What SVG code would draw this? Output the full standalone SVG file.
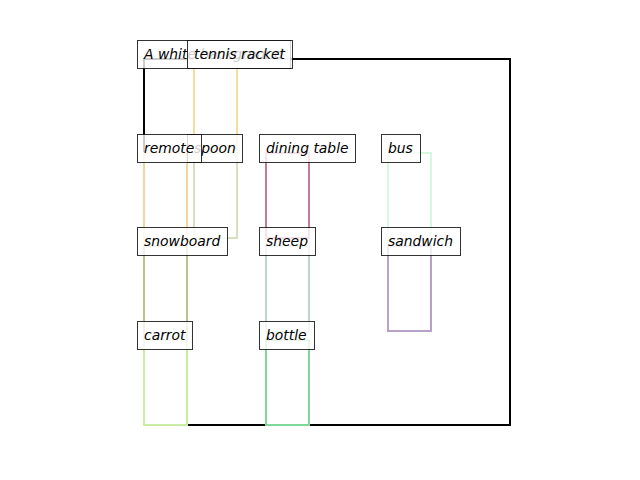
<svg xmlns="http://www.w3.org/2000/svg" width="640" height="480" viewBox="0 0 640 480">
<style>
.box{fill:none;stroke-width:2}
.lb{fill:#ffffff;fill-opacity:0.8;stroke:#000000;stroke-opacity:0.8;stroke-width:1}
.t{font-family:"DejaVu Sans",sans-serif;font-style:italic;font-size:13.9px;fill:#000000}
</style>
<rect width="640" height="480" fill="#ffffff"/>
<g id="boxes">
<rect id="box-image" class="box" x="144" y="59" width="366" height="366" stroke="#000000"/>
<rect id="box-tennis-racket" class="box" x="194" y="59" width="43" height="94" stroke="#f5dca0"/>
<rect id="box-spoon" class="box" x="194" y="153" width="43" height="85" stroke="#d6e0c0"/>
<rect id="box-remote" class="box" x="144" y="153" width="43" height="93" stroke="#f3d5a2"/>
<rect id="box-dining-table" class="box" x="266" y="153" width="43" height="85" stroke="#c47c9c"/>
<rect id="box-bus" class="box" x="388" y="153" width="43" height="93" stroke="#d6f8e0"/>
<rect id="box-snowboard" class="box" x="144" y="246" width="43" height="94" stroke="#b8c48e"/>
<rect id="box-sheep" class="box" x="266" y="246" width="43" height="86" stroke="#bcd8cc"/>
<rect id="box-sandwich" class="box" x="388" y="246" width="43" height="85" stroke="#b9a0c9"/>
<rect id="box-carrot" class="box" x="144" y="340" width="43" height="85" stroke="#c8eca2"/>
<rect id="box-bottle" class="box" x="266" y="340" width="43" height="85" stroke="#80d898"/>
</g>
<g id="labels">
<g id="label-a-white-background"><rect class="lb" x="137.5" y="40.5" width="153" height="28"/><text class="t" x="144" y="59">A white background</text></g>
<g id="label-tennis-racket"><rect class="lb" x="187.5" y="40.5" width="105" height="28"/><text class="t" x="194" y="59">tennis racket</text></g>
<g id="label-spoon"><rect class="lb" x="187.5" y="134.5" width="55" height="28"/><text class="t" x="194" y="153">spoon</text></g>
<g id="label-remote"><rect class="lb" x="137.5" y="134.5" width="64" height="28"/><text class="t" x="144" y="153">remote</text></g>
<g id="label-dining-table"><rect class="lb" x="259.5" y="134.5" width="96" height="28"/><text class="t" x="266" y="153">dining table</text></g>
<g id="label-bus"><rect class="lb" x="381.5" y="134.5" width="39" height="28"/><text class="t" x="388" y="153">bus</text></g>
<g id="label-snowboard"><rect class="lb" x="137.5" y="227.5" width="90" height="28"/><text class="t" x="144" y="246">snowboard</text></g>
<g id="label-sheep"><rect class="lb" x="259.5" y="227.5" width="56" height="28"/><text class="t" x="266" y="246">sheep</text></g>
<g id="label-sandwich"><rect class="lb" x="381.5" y="227.5" width="79" height="28"/><text class="t" x="388" y="246">sandwich</text></g>
<g id="label-carrot"><rect class="lb" x="137.5" y="321.5" width="55" height="28"/><text class="t" x="144" y="340">carrot</text></g>
<g id="label-bottle"><rect class="lb" x="259.5" y="321.5" width="55" height="28"/><text class="t" x="266" y="340">bottle</text></g>
</g>
<g id="connectors"/>
</svg>
